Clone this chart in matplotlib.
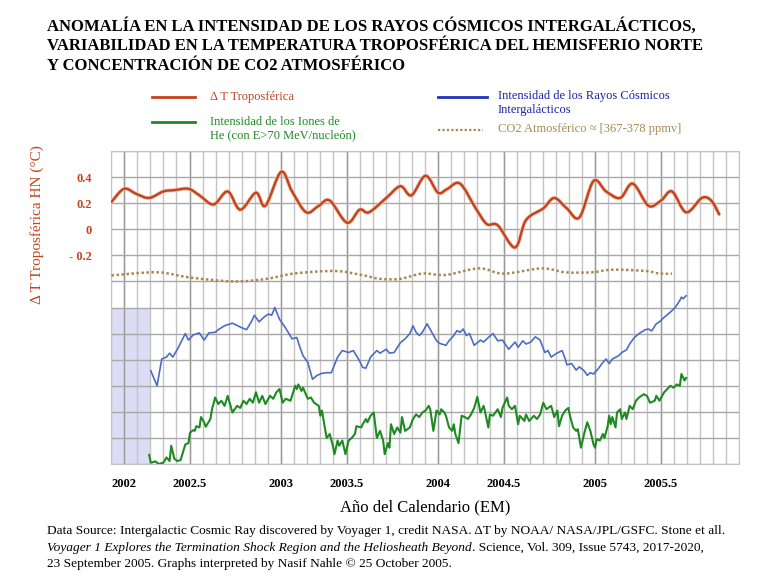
import matplotlib
matplotlib.use("Agg")
import matplotlib.pyplot as plt
from matplotlib.path import Path
from matplotlib.patches import PathPatch, Rectangle
from matplotlib.lines import Line2D
import numpy as np

# Anomalía de temperatura troposférica HN (°C)
temp_x = [2001.92, 2002.00, 2002.08, 2002.16, 2002.25, 2002.32, 2002.41, 2002.48, 2002.57,
          2002.66, 2002.74, 2002.84, 2002.90, 2003.00, 2003.07, 2003.16, 2003.24, 2003.31,
          2003.42, 2003.50, 2003.56, 2003.67, 2003.76, 2003.83, 2003.92, 2004.00, 2004.06,
          2004.14, 2004.24, 2004.31, 2004.38, 2004.49, 2004.56, 2004.67, 2004.74, 2004.82,
          2004.90, 2004.99, 2005.07, 2005.16, 2005.24, 2005.34, 2005.42, 2005.49, 2005.58,
          2005.68, 2005.74, 2005.79]
temp_y = [0.21, 0.31, 0.27, 0.24, 0.29, 0.30, 0.31, 0.26, 0.19,
          0.29, 0.15, 0.28, 0.18, 0.44, 0.29, 0.13, 0.18, 0.22,
          0.05, 0.15, 0.13, 0.24, 0.33, 0.26, 0.41, 0.28, 0.31,
          0.35, 0.16, 0.04, 0.03, -0.14, 0.07, 0.16, 0.24, 0.16,
          0.09, 0.37, 0.29, 0.24, 0.35, 0.18, 0.22, 0.29, 0.13,
          0.24, 0.22, 0.115]

# CO2 atmosférico (en unidades del eje)
co2_x = [2001.92, 2002.21, 2002.42, 2002.70, 2002.91, 2003.08, 2003.34, 2003.51, 2003.63,
         2003.76, 2003.90, 2004.05, 2004.26, 2004.42, 2004.66, 2004.81, 2004.98, 2005.11,
         2005.32, 2005.41, 2005.49]
co2_y = [-0.354, -0.33, -0.37, -0.40, -0.38, -0.34, -0.32, -0.35, -0.38,
         -0.38, -0.34, -0.35, -0.30, -0.34, -0.30, -0.33, -0.33, -0.31,
         -0.32, -0.34, -0.34]

# Intensidad de los rayos cósmicos intergalácticos
rc_x = [2002.17, 2002.21, 2002.24, 2002.27, 2002.29, 2002.31, 2002.34, 2002.39, 2002.41, 2002.44,
        2002.48, 2002.51, 2002.54, 2002.58, 2002.60, 2002.64, 2002.69, 2002.74, 2002.78, 2002.81,
        2002.83, 2002.86, 2002.89, 2002.92, 2002.94, 2002.96, 2002.99, 2003.03, 2003.07, 2003.10,
        2003.12, 2003.14, 2003.17, 2003.20, 2003.23, 2003.26, 2003.29, 2003.32, 2003.36, 2003.39,
        2003.43, 2003.46, 2003.50, 2003.52, 2003.54, 2003.57, 2003.61, 2003.63, 2003.67, 2003.69,
        2003.72, 2003.76, 2003.79, 2003.82, 2003.84, 2003.86, 2003.88, 2003.90, 2003.93, 2003.96,
        2003.99, 2004.01, 2004.05, 2004.07, 2004.10, 2004.12, 2004.14, 2004.16, 2004.18, 2004.20,
        2004.23, 2004.27, 2004.29, 2004.32, 2004.35, 2004.38, 2004.41, 2004.45, 2004.49, 2004.51,
        2004.54, 2004.56, 2004.59, 2004.62, 2004.65, 2004.68, 2004.70, 2004.72, 2004.75, 2004.79,
        2004.81, 2004.82, 2004.85, 2004.88, 2004.90, 2004.93, 2004.95, 2004.97, 2004.99, 2005.02,
        2005.05, 2005.07, 2005.09, 2005.11, 2005.15, 2005.17, 2005.20, 2005.22, 2005.25, 2005.28,
        2005.32, 2005.34, 2005.36, 2005.39, 2005.41, 2005.44, 2005.48, 2005.51, 2005.54, 2005.55,
        2005.56, 2005.58]
rc_y = [-1.085, -1.20, -0.995, -0.98, -0.95, -0.98, -0.92, -0.80, -0.85, -0.81,
        -0.795, -0.85, -0.795, -0.79, -0.77, -0.74, -0.72, -0.75, -0.77, -0.71,
        -0.66, -0.71, -0.675, -0.65, -0.66, -0.60, -0.69, -0.76, -0.84, -0.83,
        -0.905, -0.97, -1.02, -1.15, -1.12, -1.105, -1.10, -1.10, -0.98, -0.93,
        -0.945, -0.93, -1.01, -1.06, -1.065, -0.98, -0.93, -0.95, -0.92, -0.95,
        -0.945, -0.87, -0.84, -0.80, -0.74, -0.79, -0.815, -0.79, -0.725, -0.79,
        -0.855, -0.875, -0.89, -0.855, -0.815, -0.777, -0.79, -0.765, -0.815, -0.80,
        -0.89, -0.85, -0.865, -0.83, -0.80, -0.855, -0.85, -0.92, -0.865, -0.905,
        -0.855, -0.88, -0.865, -0.825, -0.85, -0.945, -0.93, -0.98, -0.955, -0.93,
        -0.995, -1.04, -1.03, -1.08, -1.055, -1.085, -1.12, -1.10, -1.11, -1.07,
        -1.02, -0.995, -1.03, -0.995, -0.97, -0.945, -0.925, -0.88, -0.83, -0.80,
        -0.77, -0.765, -0.78, -0.725, -0.71, -0.675, -0.635, -0.60, -0.546, -0.52,
        -0.533, -0.51]

# Intensidad de los iones de He (E>70 MeV/nucleón)
he_x = [2002.16, 2002.17, 2002.20, 2002.22, 2002.25, 2002.27, 2002.29, 2002.30, 2002.32, 2002.34,
        2002.36, 2002.39, 2002.41, 2002.42, 2002.44, 2002.45, 2002.46, 2002.48, 2002.49, 2002.51,
        2002.52, 2002.55, 2002.56, 2002.58, 2002.60, 2002.62, 2002.64, 2002.66, 2002.69, 2002.72,
        2002.74, 2002.76, 2002.78, 2002.80, 2002.82, 2002.84, 2002.86, 2002.88, 2002.90, 2002.93,
        2002.95, 2002.97, 2002.99, 2003.01, 2003.03, 2003.06, 2003.08, 2003.09, 2003.10, 2003.11,
        2003.13, 2003.14, 2003.17, 2003.19, 2003.21, 2003.24, 2003.25, 2003.26, 2003.28, 2003.29,
        2003.31, 2003.33, 2003.34, 2003.36, 2003.37, 2003.39, 2003.41, 2003.43, 2003.45, 2003.47,
        2003.48, 2003.51, 2003.52, 2003.54, 2003.55, 2003.57, 2003.59, 2003.61, 2003.63, 2003.65,
        2003.66, 2003.68, 2003.69, 2003.70, 2003.72, 2003.74, 2003.76, 2003.77, 2003.79, 2003.82,
        2003.84, 2003.86, 2003.88, 2003.90, 2003.92, 2003.94, 2003.95, 2003.97, 2003.99, 2004.01,
        2004.02, 2004.04, 2004.05, 2004.07, 2004.09, 2004.10, 2004.11, 2004.13, 2004.15, 2004.17,
        2004.19, 2004.21, 2004.23, 2004.25, 2004.27, 2004.29, 2004.30, 2004.32, 2004.33, 2004.35,
        2004.38, 2004.40, 2004.41, 2004.44, 2004.45, 2004.47, 2004.49, 2004.51, 2004.52, 2004.55,
        2004.56, 2004.58, 2004.61, 2004.63, 2004.65, 2004.67, 2004.69, 2004.72, 2004.74, 2004.76,
        2004.77, 2004.79, 2004.81, 2004.83, 2004.84, 2004.86, 2004.88, 2004.89, 2004.91, 2004.93,
        2004.95, 2004.97, 2004.99, 2005.00, 2005.01, 2005.03, 2005.05, 2005.06, 2005.08, 2005.09,
        2005.10, 2005.11, 2005.13, 2005.14, 2005.16, 2005.17, 2005.19, 2005.20, 2005.22, 2005.24,
        2005.26, 2005.28, 2005.31, 2005.33, 2005.35, 2005.38, 2005.39, 2005.41, 2005.44, 2005.48,
        2005.50, 2005.52, 2005.54, 2005.55, 2005.57, 2005.58]
he_y = [-1.73, -1.79, -1.78, -1.80, -1.79, -1.75, -1.777, -1.66, -1.76, -1.777,
        -1.77, -1.65, -1.64, -1.56, -1.54, -1.546, -1.51, -1.52, -1.44, -1.48,
        -1.515, -1.455, -1.38, -1.29, -1.34, -1.315, -1.354, -1.277, -1.405, -1.354,
        -1.37, -1.315, -1.34, -1.30, -1.33, -1.25, -1.33, -1.277, -1.34, -1.277,
        -1.30, -1.25, -1.225, -1.33, -1.30, -1.315, -1.24, -1.20, -1.225, -1.19,
        -1.24, -1.215, -1.30, -1.29, -1.33, -1.354, -1.43, -1.39, -1.533, -1.60,
        -1.57, -1.66, -1.725, -1.62, -1.66, -1.62, -1.725, -1.62, -1.60, -1.57,
        -1.51, -1.52, -1.495, -1.455, -1.48, -1.43, -1.405, -1.60, -1.546, -1.62,
        -1.725, -1.64, -1.675, -1.495, -1.57, -1.52, -1.56, -1.44, -1.546, -1.52,
        -1.455, -1.42, -1.44, -1.405, -1.39, -1.354, -1.38, -1.546, -1.39, -1.42,
        -1.38, -1.405, -1.43, -1.52, -1.546, -1.495, -1.57, -1.64, -1.43, -1.44,
        -1.455, -1.42, -1.37, -1.285, -1.405, -1.354, -1.405, -1.52, -1.42, -1.43,
        -1.38, -1.44, -1.37, -1.29, -1.354, -1.38, -1.354, -1.495, -1.43, -1.47,
        -1.42, -1.47, -1.43, -1.455, -1.42, -1.33, -1.38, -1.354, -1.44, -1.39,
        -1.51, -1.43, -1.39, -1.37, -1.43, -1.52, -1.546, -1.533, -1.675, -1.57,
        -1.48, -1.546, -1.65, -1.675, -1.61, -1.62, -1.57, -1.60, -1.51, -1.43,
        -1.495, -1.44, -1.52, -1.405, -1.38, -1.455, -1.405, -1.455, -1.354, -1.38,
        -1.315, -1.29, -1.265, -1.277, -1.33, -1.315, -1.277, -1.315, -1.25, -1.20,
        -1.215, -1.19, -1.20, -1.11, -1.16, -1.14]

# etiquetas del eje X (posición en meses desde enero 2002)
xtick_months = [0, 5, 12, 17, 24, 29, 36, 41]
xtick_labels = ['2002', '2002.5', '2003', '2003.5', '2004', '2004.5', '2005', '2005.5']
ytick_vals = [0.4, 0.2, 0, -0.2]
ytick_labels = ['0.4', '0.2', '0', '- 0.2']

RED = '#c2441f'
BLUE = '#4b6dc2'
GREEN = '#1e8a22'
CO2C = '#a68a52'
SERIF = ['Liberation Serif', 'DejaVu Serif']


def suavizar(x, y):
    # curva suave tipo Catmull-Rom a partir de los puntos
    pts = np.column_stack([x, y])
    verts = [pts[0]]
    codes = [Path.MOVETO]
    n = len(pts)
    for i in range(n - 1):
        p0 = pts[max(i - 1, 0)]
        p1 = pts[i]
        p2 = pts[i + 1]
        p3 = pts[min(i + 2, n - 1)]
        verts += [p1 + (p2 - p0) / 6, p2 - (p3 - p1) / 6, p2]
        codes += [Path.CURVE4] * 3
    return Path(verts, codes)


def fy(py):
    return 1 - py / 588


plt.rcParams['hatch.color'] = '#c8c8ee'
plt.rcParams['hatch.linewidth'] = 0.6

fig = plt.figure(figsize=(7.84, 5.88), dpi=100, facecolor='white')
ax = fig.add_axes([111 / 784, 1 - 464 / 588, 628 / 784, 313 / 588])

x0 = 2002 - 1 / 12
x1 = 2005 + 11 / 12
ax.set_xlim(x0, x1)
ax.set_ylim(-1.8, 0.6)

# rejilla mensual
meses = np.arange(-1, 48) / 12 + 2002
for m in meses:
    ax.axvline(m, color='#c4c4c4', lw=1.0, zorder=1)
for mt in xtick_months:
    ax.axvline(2002 + mt / 12, color='#9a9a9a', lw=1.0, zorder=1)
for yv in np.arange(-1.8, 0.61, 0.2):
    ax.axhline(yv, color='#a8a8a8', lw=1.0, zorder=1)

# zona sombreada al inicio
ax.add_patch(Rectangle((x0, -1.8), 3 / 12, 1.2, facecolor='#dcdcf4', edgecolor='none',
                       hatch='...', zorder=0.5))

# series
ax.add_patch(PathPatch(suavizar(temp_x, temp_y), fill=False, edgecolor='#efc0aa', lw=2.8,
                       capstyle='round', zorder=3))
ax.add_patch(PathPatch(suavizar(temp_x, temp_y), fill=False, edgecolor=RED, lw=1.7,
                       capstyle='round', zorder=4))
ax.add_patch(PathPatch(suavizar(co2_x, co2_y), fill=False, edgecolor=CO2C, lw=1.8,
                       linestyle=(0, (1, 1)), zorder=3))
ax.plot(rc_x, rc_y, color=BLUE, lw=1.2, zorder=3)
ax.plot(he_x, he_y, color=GREEN, lw=1.5, zorder=3)

ax.set_xticks([2002 + m / 12 for m in xtick_months])
ax.set_xticklabels(xtick_labels, fontfamily=SERIF, fontweight='bold', fontsize=9)
ax.set_yticks(ytick_vals)
ax.set_yticklabels(ytick_labels, fontfamily=SERIF, fontweight='bold', fontsize=9, color=RED)
ax.tick_params(axis='x', length=0, pad=10)
ax.tick_params(axis='y', length=0, pad=14)
for s in ax.spines.values():
    s.set_color('#c4c4c4')
    s.set_zorder(2)

ax.set_xlabel('Año del Calendario (EM)', fontfamily=SERIF, fontsize=12, labelpad=7)
fig.text(37 / 784, fy(225), 'Δ T Troposférica HN (°C)', rotation=90, color=RED,
         fontfamily=SERIF, fontsize=11, ha='center', va='center')

# título
fig.text(47 / 784, fy(18),
         'ANOMALÍA EN LA INTENSIDAD DE LOS RAYOS CÓSMICOS INTERGALÁCTICOS,\n'
         'VARIABILIDAD EN LA TEMPERATURA TROPOSFÉRICA DEL HEMISFERIO NORTE\n'
         'Y CONCENTRACIÓN DE CO2 ATMOSFÉRICO',
         fontfamily=SERIF, fontweight='bold', fontsize=12, va='top', ha='left',
         linespacing=1.3)

# leyenda manual
fig.add_artist(Line2D([152 / 784, 195 / 784], [fy(97), fy(97)], color=RED, lw=2))
fig.text(210 / 784, fy(97), 'Δ T Troposférica', color=RED, fontfamily=SERIF,
         fontsize=9, va='center')
fig.add_artist(Line2D([152 / 784, 195 / 784], [fy(122), fy(122)], color=GREEN, lw=2))
fig.text(210 / 784, fy(128.5), 'Intensidad de los Iones de\nHe (con E>70 MeV/nucleón)',
         color=GREEN, fontfamily=SERIF, fontsize=9, va='center', linespacing=1.2)
fig.add_artist(Line2D([438 / 784, 487 / 784], [fy(97), fy(97)], color='#2233b8', lw=2))
fig.text(498 / 784, fy(103), 'Intensidad de los Rayos Cósmicos\nIntergalácticos',
         color='#1a22a8', fontfamily=SERIF, fontsize=9, va='center', linespacing=1.2)
fig.add_artist(Line2D([438 / 784, 483 / 784], [fy(130), fy(130)], color=CO2C, lw=1.6,
                      linestyle=(0, (1, 1))))
fig.text(498 / 784, fy(129), 'CO2 Atmosférico ≈ [367-378 ppmv]', color=CO2C,
         fontfamily=SERIF, fontsize=9, va='center')

# fuente
fig.text(47 / 784, fy(531),
         'Data Source: Intergalactic Cosmic Ray discovered by Voyager 1, credit NASA. ΔT by '
         'NOAA/ NASA/JPL/GSFC. Stone et all.',
         fontfamily=SERIF, fontsize=9.6, va='center')
t_it = fig.text(47 / 784, fy(548),
                'Voyager 1 Explores the Termination Shock Region and the Heliosheath Beyond',
                fontfamily=SERIF, fontsize=9.6, style='italic', va='center')
ax.annotate('. Science, Vol. 309, Issue 5743, 2017-2020,', xy=(1, 0.5), xycoords=t_it,
            fontfamily=SERIF, fontsize=9.6, va='center', ha='left', annotation_clip=False)
fig.text(47 / 784, fy(564),
         '23 September 2005. Graphs interpreted by Nasif Nahle © 25 October 2005.',
         fontfamily=SERIF, fontsize=9.6, va='center')

fig.savefig('out.png', dpi=100, facecolor='white')
